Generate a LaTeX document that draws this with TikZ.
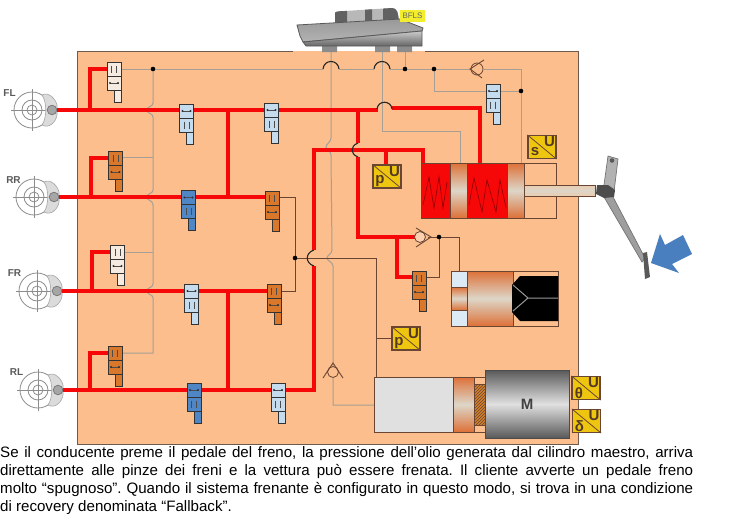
\documentclass[tikz,border=0pt]{standalone}
\usepackage{fontspec}
\setmainfont{Liberation Sans}
\usetikzlibrary{patterns}
\definecolor{panelc}{HTML}{FBBE8C}
\definecolor{edgec}{HTML}{6E5A4C}
\definecolor{grayp}{HTML}{A79E94}
\definecolor{brownp}{HTML}{6A4632}
\definecolor{redp}{HTML}{F70808}
\definecolor{whitev}{HTML}{F5EBE0}
\definecolor{orangev}{HTML}{D9782A}
\definecolor{lbluev}{HTML}{C5DCEE}
\definecolor{dbluev}{HTML}{4F86C6}
\definecolor{yel}{HTML}{EFC60F}
\definecolor{pist}{HTML}{DD7138}
\definecolor{pistm}{HTML}{DDD6C8}
\definecolor{arrowb}{HTML}{4A7FBF}
\definecolor{bfls}{HTML}{F2EE2E}
\tikzset{
  x=1pt,y=-1pt,
  redpipe/.style={draw=redp,line width=3.6pt,line join=miter},
  graypipe/.style={draw=grayp,line width=1pt},
  brownpipe/.style={draw=brownp,line width=1pt},
  hop/.style={draw=black!85,line width=1.1pt},
  vbox/.style={draw=black!80,line width=0.9pt,inner sep=0pt,minimum width=14pt,minimum height=14pt},
  vsmall/.style={draw=black!80,line width=0.9pt,inner sep=0pt,minimum width=7pt,minimum height=12pt},
  dotn/.style={circle,fill=black,inner sep=0pt,minimum size=4.6pt},
  sensor/.style={draw=brownp,line width=1.1pt,fill=yel,inner sep=0pt,minimum width=28pt,minimum height=23pt},
  senslab/.style={inner sep=0pt,text=brownp!80!black,font=\bfseries\fontsize{15}{15}\selectfont},
  wheellab/.style={inner sep=0pt,text=black!65,font=\bfseries\fontsize{10}{10}\selectfont},
  piston/.style={draw=brownp,line width=1pt,top color=pist,bottom color=pist,middle color=pistm},
  cyl/.style={draw=brownp,line width=1pt},
  thinw/.style={draw=black!45,line width=0.8pt},
}
\newcommand{\glyV}[1]{\draw[black!70,line width=0.7pt] (4.5,#1-3.5) -- (4.5,#1+3.5) (9.5,#1-3.5) -- (9.5,#1+3.5);}
\newcommand{\glyH}[1]{\draw[black!70,line width=0.6pt] (2.5,#1) -- (11.5,#1); \fill[black!80] (3,#1) circle (1.1) (11,#1) circle (1.1);}
\newcommand{\valve}[5]{%
  \begin{scope}[shift={(#2,#3)}]
    \node[vbox,fill=#4] (#1) at (7,7) {};
    \node[vbox,fill=#4] (#1-b) at (7,21) {};
    \node[vsmall,fill=#4] (#1-c) at (10.5,34) {};
    \ifnum#5=0 \glyV{7}\glyH{21}\else\glyH{7}\glyV{21}\fi
  \end{scope}}
\newcommand{\wheel}[6]{% name,x,y,label,labx,laby
  \begin{scope}[shift={(#2,#3)}]
    \draw[thinw] (-21,0) -- (21,0) (0,-21) -- (0,21);
    \node[circle,thinw,minimum size=36pt,inner sep=0pt] (#1) at (0,0) {};
    \draw[thinw] (0,0) circle (10) (0,0) circle (5);
    \filldraw[fill=black!14,draw=black!35,line width=0.6pt] (10,-15) .. controls (17,-19) and (24,-10) .. (25,-5) -- (25,5) .. controls (24,12) and (17,19) .. (10,15) .. controls (15,8) and (15,-8) .. (10,-15);
    \filldraw[fill=black!35,draw=black!55,line width=0.7pt] (20,0) circle (4.8);
    \coordinate (#1-p) at (25,0);
  \end{scope}
  \node[wheellab] (#1-l) at (#5,#6) {#4};}
\newcommand{\sens}[5]{% name,cx,cy,letter,(unused)
  \node[sensor] (#1) at (#2,#3) {};
  \draw[brownp,line width=0.8pt] (#1.north west) -- (#1.south east);
  \node[senslab,anchor=center] (#1-u) at ([xshift=7.5pt,yshift=5.5pt]#1.center) {U};
  \node[senslab,anchor=center] (#1-s) at ([xshift=-7pt,yshift=-5pt]#1.center) {#4};}
\begin{document}
\begin{tikzpicture}
\useasboundingbox (0,0) rectangle (731,514);
% panel
\node[inner sep=0pt,fill=panelc,minimum width=501pt,minimum height=393pt] (panel) at (327.5,247.5) {};
\draw[edgec,line width=1pt] (293,51) -- (77,51) -- (77,444) -- (578,444) -- (578,51) -- (425,51);
% junction names
\coordinate (jg1) at (153,69);
\coordinate (jg2) at (405,69);
\coordinate (jg3) at (434,69);
\coordinate (jg4) at (521,91);
\coordinate (jb1) at (295,258);
\coordinate (jb2) at (439,237);
% grey pipes
\draw[graypipe] (122,69) -- (323,69) (339,69) -- (374,69) (390,69) -- (470,69);
\draw[graypipe] (484,69) -- (521,69) -- (521,163);
\draw[graypipe] (jg3) |- (486,91);
\draw[graypipe] (499,91) -- (jg4);
\draw[graypipe] (jg2) -- (405,51);
\draw[graypipe] (jg1) -- (153,103) .. controls (153,107) and (147,106) .. (147,110) .. controls (147,114) and (153,113) .. (153,117) -- (153,190) .. controls (153,194) and (147,193) .. (147,197) .. controls (147,201) and (153,200) .. (153,205) -- (153,284) .. controls (153,288) and (147,287) .. (147,291) .. controls (147,295) and (153,294) .. (153,298) -- (153,353) -- (122,353);
\draw[graypipe] (122,157) -- (153,157);
\draw[graypipe] (124,252) -- (153,252);
\draw[graypipe] (331,51) -- (331,138) .. controls (331,142) and (326,144) .. (326,147) .. controls (326,150) and (331,151) .. (331,155) -- (332,250) .. controls (332,254) and (327,255) .. (327,258) .. controls (327,261) and (333,262) .. (333,266) -- (333,405) -- (374,405);
\draw[graypipe] (382,51) -- (382,131) -- (460,131) -- (460,163);
% brown pipes
\draw[brownpipe] (279,197) -- (295,197) -- (295,291) -- (281,291);
\draw[brownpipe] (jb1) -- (376,258) -- (376,377);
\draw[brownpipe] (376,338) -- (392,338);
\draw[brownpipe] (428,237) -- (459,237) -- (459,271);
\draw[brownpipe] (jb2) |- (426,277);
% red pipes
\coordinate (jr1) at (90,110);
\coordinate (jr2) at (91,197);
\coordinate (jr3) at (92,291);
\coordinate (jr4) at (90,390);
\draw[redpipe] (55,110) -- (378,110);
\draw[redpipe] (392,108) -- (480,108) -- (480,163);
\draw[redpipe] (57,197) -- (268,197);
\draw[redpipe] (60,291) -- (270,291);
\draw[redpipe] (62,390) -- (314,390) -- (314,266);
\draw[redpipe] (314,250) -- (314,150) -- (423,150) -- (423,163);
\draw[redpipe] (228,110) -- (228,197);
\draw[redpipe] (228,291) -- (228,390);
\draw[redpipe] (358,110) -- (358,143);
\draw[redpipe] (358,157) -- (358,237) -- (416,237);
\draw[redpipe] (397,237) -- (397,277) -- (412,277);
\draw[redpipe] (386,150) -- (386,165);
% hops
\draw[hop] (323,69) .. controls (324,59) and (338,59) .. (339,69);
\draw[hop] (374,69) .. controls (375,59) and (389,59) .. (390,69);
\draw[hop] (377,109) .. controls (378,100) and (391,100) .. (392,109);
\draw[hop] (358,143) .. controls (350,146) and (350,154) .. (358,157);
\draw[hop] (314,250) .. controls (305,253) and (305,263) .. (314,266);
% dots
\node[dotn] (d1) at (jg1) {};
\node[dotn] (d2) at (jg2) {};
\node[dotn] (d3) at (jg3) {};
\node[dotn] (d4) at (jg4) {};
\node[dotn] (d5) at (jb1) {};
\node[dotn] (d6) at (jb2) {};
% valves
\valve{vFLa}{107}{62}{whitev}{0}
\valve{vRRa}{108.5}{151}{orangev}{0}
\valve{vFRa}{110.5}{245}{whitev}{0}
\valve{vRLa}{108}{346}{orangev}{0}
\valve{vFLb}{179.5}{104}{lbluev}{1}
\valve{vRRb}{181.5}{190.5}{dbluev}{1}
\valve{vFRb}{184.5}{284}{lbluev}{1}
\valve{vRLb}{187}{383}{dbluev}{1}
\valve{vFLc}{264.5}{103}{lbluev}{1}
\valve{vRRc}{265}{191}{orangev}{0}
\valve{vFRc}{267}{284}{orangev}{0}
\valve{vRLc}{271}{383}{lbluev}{1}
\valve{vTop}{486}{84}{lbluev}{1}
\valve{vMid}{412}{271}{orangev}{0}
% red branches to valves
\draw[redpipe] (jr1) |- (vFLa.west);
\draw[redpipe] (jr2) |- (vRRa.west);
\draw[redpipe] (jr3) |- (vFRa.west);
\draw[redpipe] (jr4) |- (vRLa.west);
% check valves
\draw[brownp,line width=0.8pt,fill=panelc] (477,69) circle (6);
\draw[brownp,line width=0.9pt] (484,60) -- (470,69) -- (482,78);
\draw[brownp,line width=0.8pt,fill=panelc!70!white] (420,237) circle (5.5);
\draw[brownp,line width=0.9pt] (416,228) -- (431,237) -- (416,247);
\draw[brownp,line width=0.8pt,fill=panelc] (333,372) circle (5.5);
\draw[brownp,line width=0.9pt] (323,378) -- (333,363) -- (343,378);
% master cylinder
\fill[redp] (421,163) rectangle (507,218);
\draw[cyl] (421,163) rectangle (524,218);
\draw[piston] (450,163) rectangle (467,218);
\draw[piston] (507,163) rectangle (524,218);
\draw[cyl] (524,163) rectangle (556,218);
\draw[cyl,top color=pistm!60!panelc,bottom color=pistm!60!panelc,middle color=pistm] (524,185) rectangle (595,196);
\draw[red!55!black,line width=0.6pt] (423,205) -- (429,177) -- (434,208) -- (439,177) -- (443,208) -- (447,182);
\draw[red!55!black,line width=0.6pt] (469,205) -- (474,178) -- (482,212) -- (487,180) -- (496,212) -- (500,180) -- (506,208);
% second cylinder
\draw[cyl] (451,271) rectangle (558,326);
\draw[cyl,fill=lbluev!60!white] (451,271) rectangle (467,287);
\draw[cyl,fill=lbluev!60!white] (451,310) rectangle (467,326);
\draw[piston] (451,287) rectangle (467,310);
\draw[piston] (467,271) rectangle (513,326);
\fill[black] (520,276) -- (558,276) -- (558,321) -- (520,321) -- (512,312) -- (512,285) -- cycle;
\draw[black!40,line width=1pt] (513,285) -- (528,298) -- (513,311) (528,298) -- (558,298);
% actuator
\draw[cyl] (453,377) rectangle (486,432);
\draw[cyl,fill=black!12] (374,377) rectangle (453,432);
\draw[piston] (453,377) rectangle (474,432);
\draw[brownp,fill=brown!70!orange] (474,384) rectangle (485,425);
\fill[pattern=north east lines,pattern color=brownp] (474,384) rectangle (485,425);
\node[inner sep=0pt,draw=black!70,line width=1pt,top color=black!65,bottom color=black!65,middle color=black!12,minimum width=84pt,minimum height=68pt,font=\bfseries\fontsize{15}{15}\selectfont,text=black!75] (motor) at (527,404) {M};
% sensors
\sens{spu}{387}{176.5}{p}{}
\sens{ssu}{542}{147}{s}{}
\sens{spm}{406}{338.5}{p}{}
\sens{sth}{586}{388}{θ}{}
\sens{sde}{586.5}{421}{δ}{}
% wheels
\wheel{wFL}{32}{110}{FL}{9.5}{93}
\wheel{wRR}{34}{197}{RR}{13.5}{180}
\wheel{wFR}{37}{291}{FR}{14.5}{273}
\wheel{wRL}{38}{390}{RL}{16.5}{372}
\draw[redpipe] (wFL-p) -- (jr1);
\draw[redpipe] (wRR-p) -- (jr2);
\draw[redpipe] (wFR-p) -- (jr3);
\draw[redpipe] (wRL-p) -- (jr4);
% reservoir
\fill[black!45] (322,46) rectangle (337,52) (375,46) rectangle (390,52) (397,46) rectangle (412,52);
\begin{scope}
\clip (335,24) -- (335,13) .. controls (335,11.5) and (340,11) .. (345,11) -- (392,8) .. controls (397,8) and (398,12) .. (399,22) -- cycle;
\fill[black!28] (330,5) rectangle (405,26);
\fill[black!62] (330,5) rectangle (347,26) (365,5) rectangle (372,26) (383,5) rectangle (405,26);
\end{scope}
\draw[black!65,line width=0.8pt,top color=black!40,middle color=white,bottom color=black!30] (297,25) -- (400,19) -- (423,28) -- (422,31) -- (303,42) -- (300,36) -- cycle;
\draw[black!65,line width=0.8pt,top color=black!20,bottom color=black!60] (303,42) -- (422,31) -- (422,46) -- (306,46) -- cycle;
\node[inner sep=0pt,fill=bfls,minimum width=25pt,minimum height=12pt,font=\fontsize{8}{8}\selectfont,text=black!60] (bf) at (412.5,16) {BFLS};
% pedal
\filldraw[fill=black!38,draw=black!55,line width=0.7pt] (604,197) -- (612,195) -- (645,258) -- (642,262) -- cycle;
\filldraw[fill=black!30,draw=black!55,line width=0.7pt] (608,156) -- (618,159) -- (614,192) -- (603,192) -- cycle;
\fill[black!65] (612,160.5) circle (2.3);
\fill[black!70] (597,185) -- (608,185) -- (615,190) -- (614,197) -- (604,198) -- (596,194) -- cycle;
\fill[black!65] (643,253) -- (647,252) -- (650,277) -- (645,279) -- cycle;
\fill[arrowb] (651,263) -- (660,234) -- (665,245) -- (683,235) -- (692,254) -- (672,264) -- (679,273) -- cycle;
% text
\node[anchor=north west,inner sep=0pt,text width=693pt,align=justify,font=\fontsize{15.1}{18}\selectfont] (caption) at (0,446.5) {\frenchspacing Se il conducente preme il pedale del freno, la pressione dell’olio generata dal cilindro maestro, arriva\linebreak direttamente alle pinze dei freni e la vettura può essere frenata. Il cliente avverte un pedale freno\linebreak molto “spugnoso”. Quando il sistema frenante è configurato in questo modo, si trova in una condizione\linebreak di recovery denominata “Fallback”.};
\end{tikzpicture}
\end{document}
